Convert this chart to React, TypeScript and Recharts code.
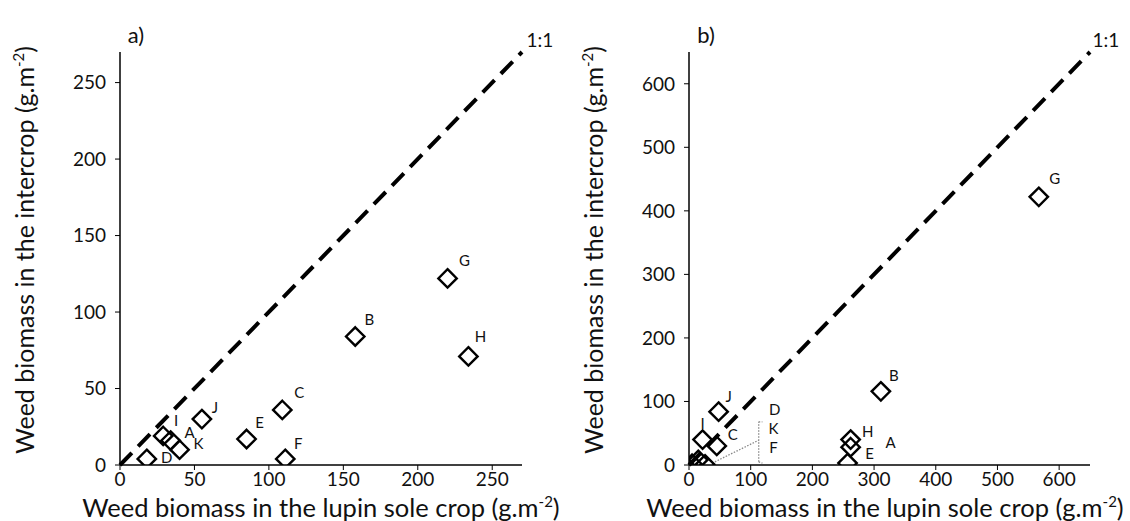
import React from "react"
import { ScatterChart, Scatter, XAxis, YAxis, ReferenceLine } from "recharts"

// weed biomass (g.m-2) per site
const sites = ["A", "B", "C", "D", "E", "F", "G", "H", "I", "J", "K"]

// a) first year
const soleA = [34, 158, 109, 18, 85, 111, 220, 234, 29, 55, 40]
const interA = [16, 84, 36, 4, 17, 4, 122, 71, 19, 30, 10]

// b) second year
const soleB = [262, 311, 45, 5, 257, 26, 567, 262, 22, 48, 15]
const interB = [28, 116, 30, 2, 3, 1, 422, 40, 40, 84, 8]

const ticksA = [0, 50, 100, 150, 200, 250]
const ticksB = [0, 100, 200, 300, 400, 500, 600]
const maxA = 270
const maxB = 650

// where each site letter sits relative to its diamond (px), null = no letter
const labelOffsetA: Record<string, [number, number] | null> = {
  A: [19, -9], B: [14, -18], C: [17, -18], D: [20, -2], E: [13, -17], F: [13, -16],
  G: [17, -18], H: [12, -20], I: [13, -16], J: [13, -12], K: [19, -7],
}
const labelOffsetB: Record<string, [number, number] | null> = {
  A: [40, -5], B: [13, -16], C: [16, -12], D: null, E: [22, -10], F: null,
  G: [16, -19], H: [17, -9], I: [0, -17], J: [10, -16], K: null,
}

// bracket that groups D, K and F near the origin in b)
const bracketLabels = [
  { name: "D", x: 139, y: 88 },
  { name: "K", x: 137, y: 59 },
  { name: "F", x: 137, y: 29 },
]

const font = "Lato, 'Open Sans', sans-serif"

const toPoints = (xs: number[], ys: number[]) =>
  sites.map((name, i) => ({ name, x: xs[i], y: ys[i] }))

const diamond = (offsets: Record<string, [number, number] | null>) => (props: any) => {
  const { cx, cy, payload } = props
  const s = 9.2
  const off = offsets[payload.name]
  return (
    <g>
      <polygon
        points={`${cx},${cy - s} ${cx + s},${cy} ${cx},${cy + s} ${cx - s},${cy}`}
        fill="none"
        stroke="#000"
        strokeWidth={2.4}
      />
      {off && (
        <text x={cx + off[0]} y={cy + off[1]} textAnchor="middle" dominantBaseline="central" fontSize={15} fontFamily={font} fill="#111">
          {payload.name}
        </text>
      )}
    </g>
  )
}

const textShape = (props: any) => (
  <text x={props.cx} y={props.cy} textAnchor="middle" dominantBaseline="central" fontSize={15} fontFamily={font} fill="#111">
    {props.payload.name}
  </text>
)

function Panel({ data, ticks, max, offsets, yWidth, right, bracket }: any) {
  const tick = { fill: "#111", fontSize: 19, fontFamily: font }
  return (
    <ScatterChart width={565} height={521} margin={{ top: 52, right, bottom: 0, left: 0 }}>
      <XAxis
        type="number"
        dataKey="x"
        domain={[0, max]}
        ticks={ticks}
        allowDataOverflow
        height={56}
        tick={tick}
        tickSize={5}
        tickMargin={3}
        axisLine={{ stroke: "#000", strokeWidth: 1.5 }}
        tickLine={{ stroke: "#000" }}
      />
      <YAxis
        type="number"
        dataKey="y"
        domain={[0, max]}
        ticks={ticks}
        allowDataOverflow
        width={yWidth}
        tick={tick}
        tickSize={5}
        tickMargin={9}
        axisLine={{ stroke: "#000", strokeWidth: 1.5 }}
        tickLine={{ stroke: "#000" }}
      />
      <ReferenceLine
        segment={[{ x: 0, y: 0 }, { x: max, y: max }]}
        stroke="#000"
        strokeWidth={4}
        strokeDasharray="17 9"
      />
      {bracket && (
        <>
          <ReferenceLine segment={[{ x: 42, y: 5 }, { x: 113, y: 39 }]} stroke="#888" strokeDasharray="1.5 1.5" strokeWidth={1.3} />
          <ReferenceLine segment={[{ x: 113, y: 5 }, { x: 113, y: 68 }]} stroke="#888" strokeDasharray="1.5 1.5" strokeWidth={1.3} />
          <ReferenceLine segment={[{ x: 113, y: 68 }, { x: 119, y: 68 }]} stroke="#888" strokeDasharray="1.5 1.5" strokeWidth={1.3} />
          <ReferenceLine segment={[{ x: 113, y: 5 }, { x: 119, y: 3 }]} stroke="#888" strokeDasharray="1.5 1.5" strokeWidth={1.3} />
          <Scatter data={bracketLabels} shape={textShape} isAnimationActive={false} />
        </>
      )}
      <Scatter data={data} shape={diamond(offsets)} isAnimationActive={false} />
    </ScatterChart>
  )
}

function Titles() {
  const t = { fontFamily: font, fill: "#111" }
  const xTitle = (cx: number) => (
    <text x={cx} y={517} textAnchor="middle" fontSize={25.5} {...t}>
      Weed biomass in the lupin sole crop (g.m<tspan dy={-10} fontSize={15}>-2</tspan>
      <tspan dy={10}>)</tspan>
    </text>
  )
  const yTitle = (bx: number) => (
    <text x={0} y={0} transform={`translate(${bx},250) rotate(-90)`} textAnchor="middle" fontSize={25} {...t}>
      Weed biomass in the intercrop (g.m<tspan dy={-10} fontSize={15}>-2</tspan>
      <tspan dy={10}>)</tspan>
    </text>
  )
  return (
    <svg width={1130} height={521} style={{ position: "absolute", left: 0, top: 0, pointerEvents: "none" }}>
      {xTitle(321)}
      {xTitle(885)}
      {yTitle(34)}
      {yTitle(603)}
      <text x={136} y={43} textAnchor="middle" fontSize={22} {...t}>a)</text>
      <text x={706} y={43} textAnchor="middle" fontSize={22} {...t}>b)</text>
      <text x={540} y={47} textAnchor="middle" fontSize={19} {...t}>1:1</text>
      <text x={1106} y={47} textAnchor="middle" fontSize={19} {...t}>1:1</text>
    </svg>
  )
}

export default function App() {
  return (
    <div style={{ position: "absolute", left: 0, top: 0, width: 1130, height: 521, background: "#fff" }}>
      <div style={{ position: "absolute", left: 0, top: 0 }}>
        <Panel data={toPoints(soleA, interA)} ticks={ticksA} max={maxA} offsets={labelOffsetA} yWidth={120} right={43} />
      </div>
      <div style={{ position: "absolute", left: 565, top: 0 }}>
        <Panel data={toPoints(soleB, interB)} ticks={ticksB} max={maxB} offsets={labelOffsetB} yWidth={124} right={40} bracket />
      </div>
      <Titles />
    </div>
  )
}
